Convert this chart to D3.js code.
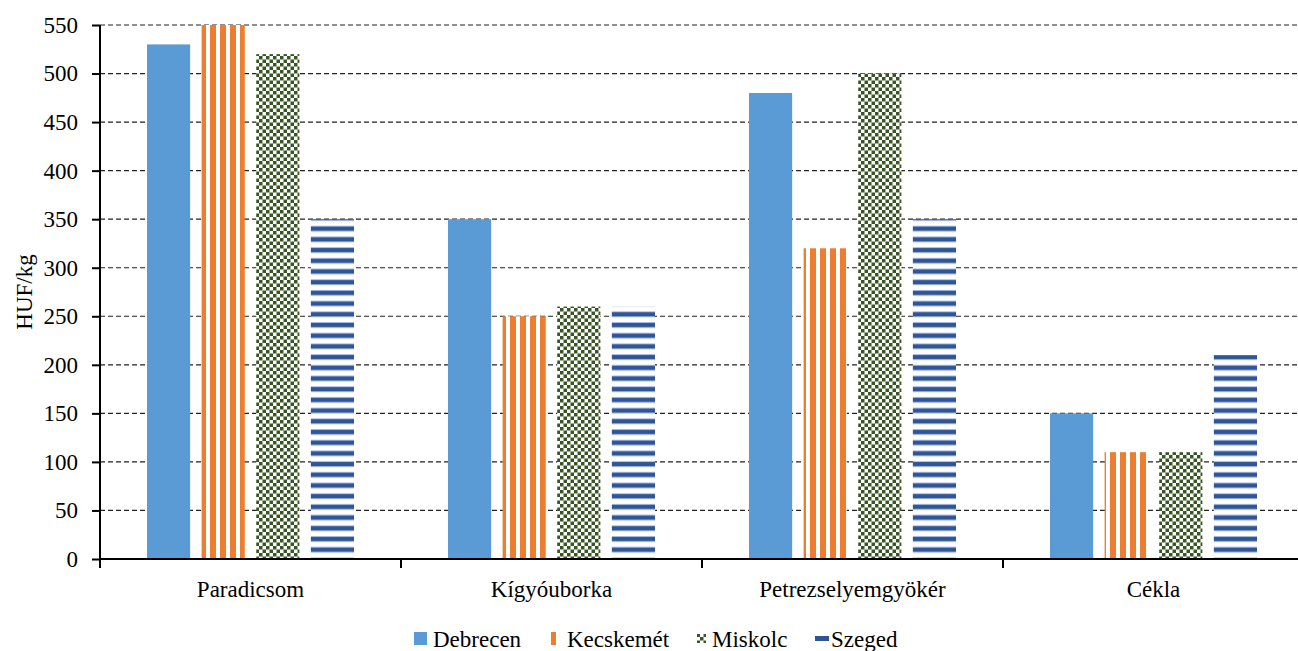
<!DOCTYPE html>
<html>
<head>
<meta charset="utf-8">
<style>
	body { margin: 0; background: #fff; }
	text { font-family: "Liberation Serif", "Times New Roman", serif; fill: #000; }
</style>
</head>
<body>
<div id="vis-bars"></div>

<script src="https://d3js.org/d3.v7.min.js"></script>
<script>

	// Data //
	// ---- //

	const categories = ["Paradicsom", "Kígyóuborka", "Petrezselyemgyökér", "Cékla"];
	const cities = ["Debrecen", "Kecskemét", "Miskolc", "Szeged"];
	const debrecen = [530, 350, 480, 150];
	const kecskemet = [550, 250, 320, 110];
	const miskolc = [520, 260, 500, 110];
	const szeged = [350, 260, 350, 210];
	const yTicks = [0, 50, 100, 150, 200, 250, 300, 350, 400, 450, 500, 550];

	const series = [debrecen, kecskemet, miskolc, szeged];

	// Setup //
	// ----- //

	let W = 1298, H = 651;
	let margin_ = {top: 25, left: 100, bottom: 92};
	let plotRight = 1304;
	let fs = "23px";

	let svg = d3.select("#vis-bars")
		.append("svg")
			.attr("width", W)
			.attr("height", H);

	let defs = svg.append("defs");

	// orange vertical stripes
	let pOr = defs.append("pattern").attr("id", "p-or")
		.attr("patternUnits", "userSpaceOnUse").attr("width", 10).attr("height", 10);
	pOr.append("rect").attr("width", 10).attr("height", 10).attr("fill", "#fff");
	pOr.append("rect").attr("x", 0).attr("width", 6).attr("height", 10).attr("fill", "#ED7D31");

	// green checkerboard
	let pGr = defs.append("pattern").attr("id", "p-gr")
		.attr("patternUnits", "userSpaceOnUse").attr("width", 7).attr("height", 7);
	pGr.append("rect").attr("width", 7).attr("height", 7).attr("fill", "#fff");
	pGr.append("rect").attr("x", 0).attr("y", 0).attr("width", 3.5).attr("height", 3.5).attr("fill", "#375623");
	pGr.append("rect").attr("x", 3.5).attr("y", 3.5).attr("width", 3.5).attr("height", 3.5).attr("fill", "#375623");

	// blue horizontal stripes
	let pBl = defs.append("pattern").attr("id", "p-bl")
		.attr("patternUnits", "userSpaceOnUse").attr("width", 10).attr("height", 10.7);
	pBl.append("rect").attr("width", 10).attr("height", 10.7).attr("fill", "#fff");
	pBl.append("rect").attr("y", 1).attr("width", 10).attr("height", 6).attr("fill", "#A9BBDD");
	pBl.append("rect").attr("y", 2).attr("width", 10).attr("height", 4).attr("fill", "#2F5597");

	const fills = ["#5B9BD5", "url(#p-or)", "url(#p-gr)", "url(#p-bl)"];

	// Scales
	let x = d3.scaleBand().domain(categories).range([margin_.left, plotRight]).paddingInner(0).paddingOuter(0);
	let y = d3.scaleLinear().domain([0, 550]).range([H - margin_.bottom, margin_.top]);
	let xs = d3.scaleBand().domain(d3.range(4)).range([47, x.bandwidth() - 47]).paddingInner(0.21);

	// Gridlines
	svg.append("g")
		.selectAll("line")
		.data(yTicks.filter(d => d > 0))
		.enter().append("line")
			.attr("x1", margin_.left).attr("x2", plotRight)
			.attr("y1", d => y(d)).attr("y2", d => y(d))
			.attr("stroke", "#222").attr("stroke-width", 1.2)
			.attr("stroke-dasharray", "5,3");

	// Bars
	series.forEach((vals, si) => {
		svg.append("g")
			.selectAll("rect")
			.data(vals)
			.enter().append("rect")
				.attr("x", (d, i) => x(categories[i]) + xs(si))
				.attr("y", d => y(d))
				.attr("width", xs.bandwidth())
				.attr("height", d => y(0) - y(d))
				.attr("fill", fills[si]);
	});

	// Y axis
	let yAxis = svg.append("g")
		.attr("transform", "translate(" + margin_.left + ",0)")
		.call(d3.axisLeft(y).tickValues(yTicks).tickSize(8).tickPadding(14));
	yAxis.select(".domain").attr("stroke-width", 2).attr("d", "M0," + y(0) + "V" + y(550));
	yAxis.selectAll(".tick line").attr("stroke-width", 2);
	yAxis.selectAll("text").style("font-size", fs).style("font-family", "Liberation Serif");

	// X axis
	let xTickPos = categories.map(c => x(c)).concat([plotRight]);
	svg.append("line")
		.attr("x1", margin_.left).attr("x2", plotRight)
		.attr("y1", y(0)).attr("y2", y(0))
		.attr("stroke", "#000").attr("stroke-width", 2);
	svg.append("g").selectAll("line")
		.data(xTickPos)
		.enter().append("line")
			.attr("x1", d => d).attr("x2", d => d)
			.attr("y1", y(0)).attr("y2", y(0) + 9)
			.attr("stroke", "#000").attr("stroke-width", 2);
	svg.append("g").selectAll("text")
		.data(categories)
		.enter().append("text")
			.attr("x", d => x(d) + x.bandwidth() / 2)
			.attr("y", y(0) + 38)
			.attr("text-anchor", "middle")
			.style("font-size", fs)
			.text(d => d);

	// Y label
	svg.append("text")
		.attr("transform", "translate(32," + (y(275)) + ") rotate(-90)")
		.attr("text-anchor", "middle")
		.style("font-size", fs)
		.text("HUF/kg");

	// Legend
	let legText = [433, 567, 712, 831];
	let legMark = [
		{x: 414, y: 632, w: 13, h: 13},
		{x: 551, y: 632, w: 5, h: 13},
		{x: 697, y: 634, w: 9, h: 9},
		{x: 815, y: 636, w: 14, h: 5}
	];
	let legFill = ["#5B9BD5", "#ED7D31", "url(#p-gr)", "#2F5597"];
	let leg = svg.append("g");
	cities.forEach((c, i) => {
		let m = legMark[i];
		leg.append("rect")
			.attr("x", m.x).attr("y", m.y)
			.attr("width", m.w).attr("height", m.h)
			.attr("fill", legFill[i]);
		leg.append("text")
			.attr("x", legText[i]).attr("y", 647)
			.style("font-size", fs)
			.text(c);
	});

</script>
</body>
</html>
